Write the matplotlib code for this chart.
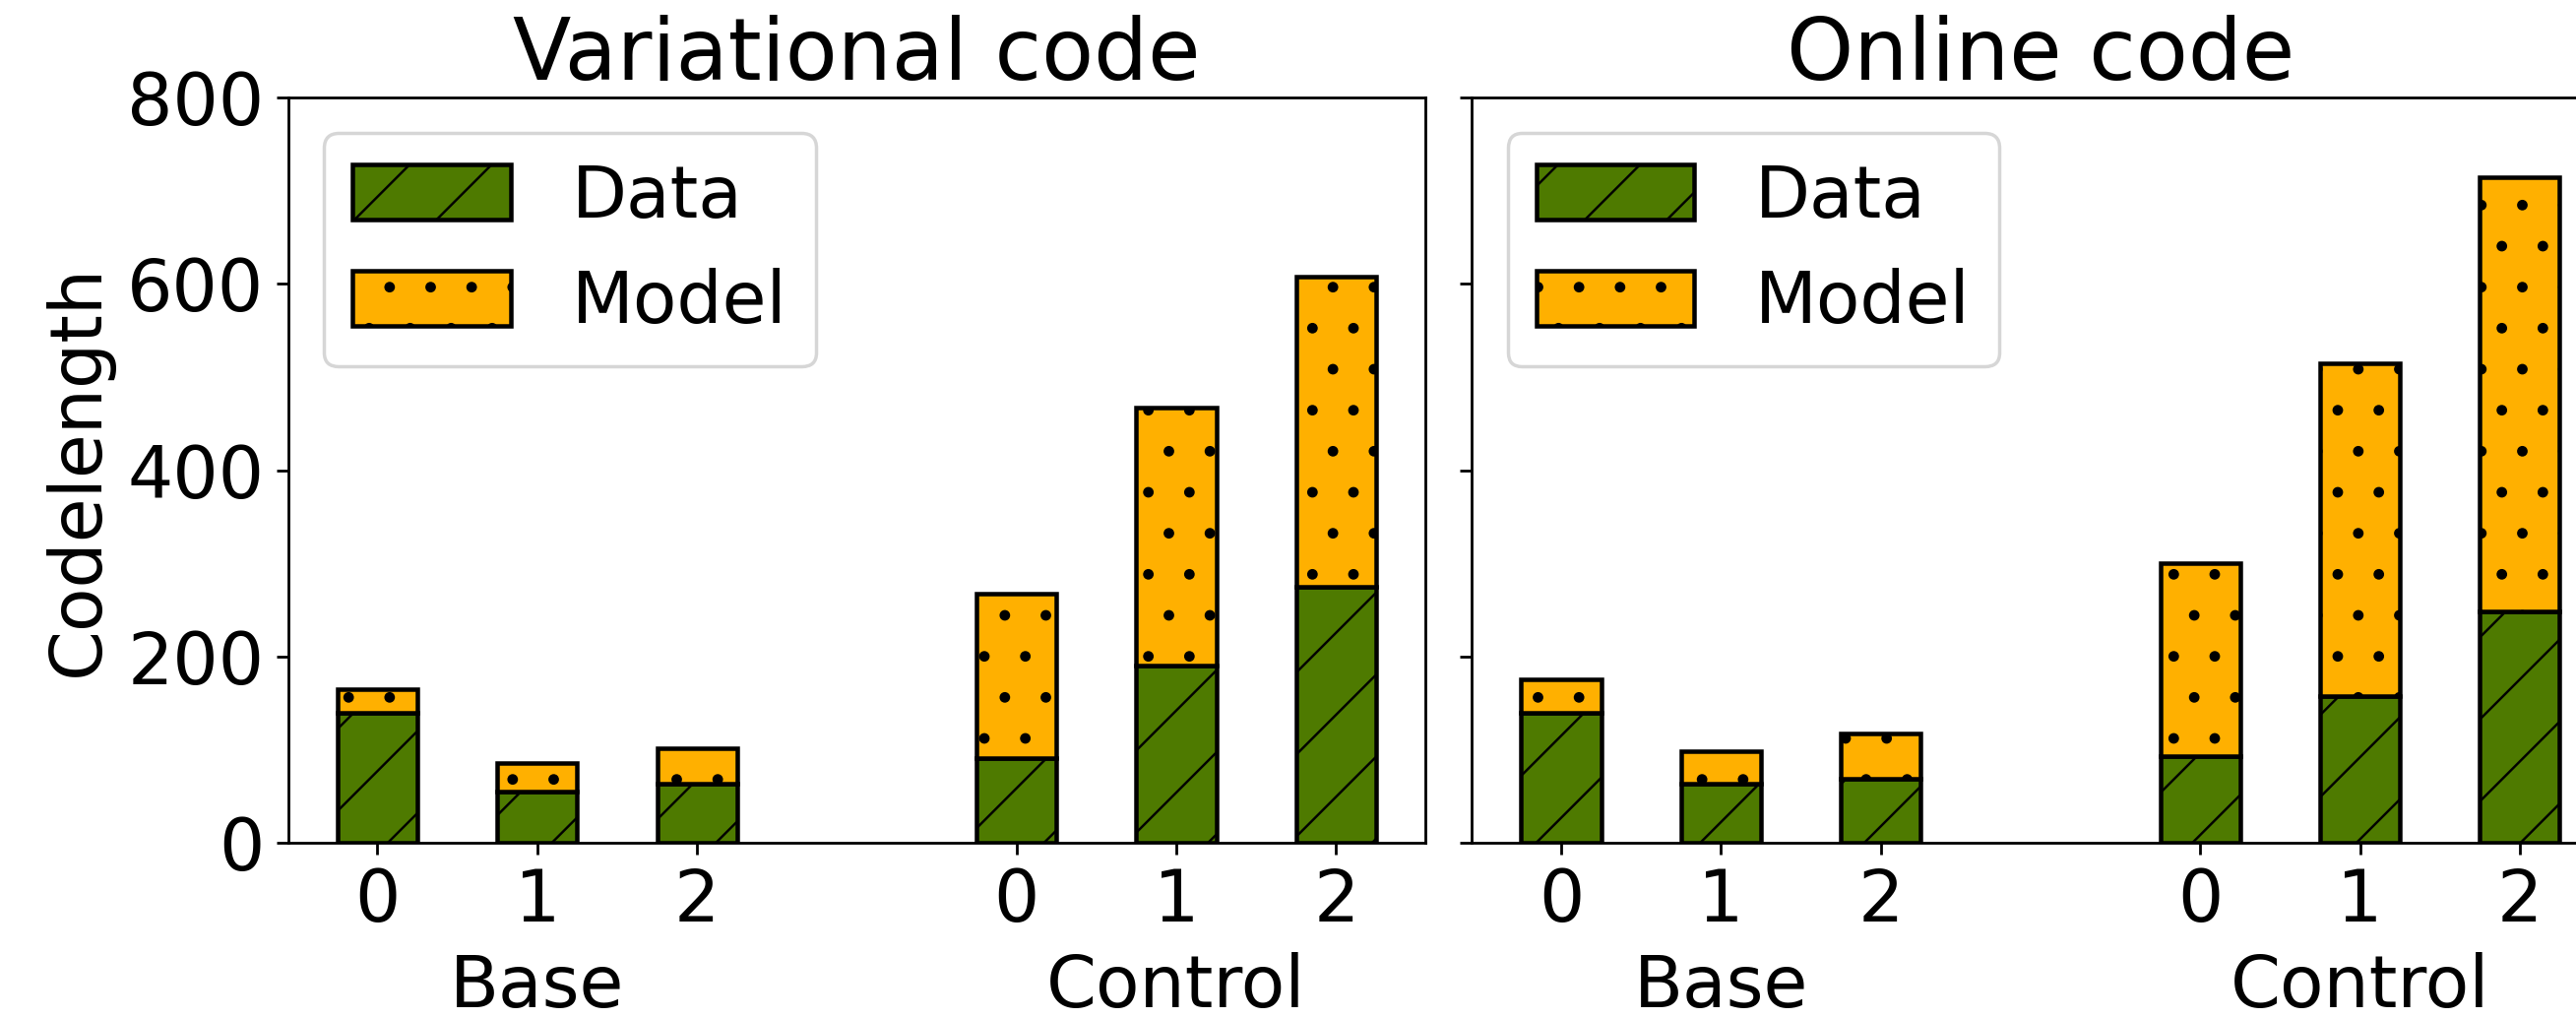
import matplotlib
matplotlib.use('Agg')
import matplotlib.pyplot as plt
from matplotlib.transforms import blended_transform_factory

titles = ['Variational code', 'Online code']
positions = [0, 1, 2, 4, 5, 6]
tick_labels = ['0', '1', '2', '0', '1', '2']
groups = ['Base', 'Control']
group_centers = [1, 5]
var_data = [140, 55, 63, 91, 190, 275]
var_model = [25, 31, 39, 176, 277, 333]
onl_data = [140, 63, 69, 93, 158, 248]
onl_model = [35, 35, 48, 207, 357, 466]
yticks = [0, 200, 400, 600, 800]

GREEN = '#4e7a00'
ORANGE = '#ffb000'
DPI = 250

plt.rcParams['hatch.linewidth'] = 0.7
fig = plt.figure(figsize=(2617 / DPI, 1034 / DPI), dpi=DPI)
ax1 = fig.add_axes([0.1118, 0.1721, 0.4416, 0.7322])
ax2 = fig.add_axes([0.5713, 0.1721, 0.4416, 0.7322], sharey=ax1)

for ax, title, d, m in [(ax1, titles[0], var_data, var_model),
                        (ax2, titles[1], onl_data, onl_model)]:
    ax.bar(positions, d, width=0.5, color=GREEN, edgecolor='black',
           hatch='/', label='Data', linewidth=1.3)
    ax.bar(positions, m, bottom=d, width=0.5, color=ORANGE, edgecolor='black',
           hatch='.', label='Model', linewidth=1.3)
    ax.set_xticks(positions)
    ax.set_xticklabels(tick_labels, fontsize=21)
    ax.set_xlim(-0.56, 6.56)
    ax.set_title(title, fontsize=25, pad=3.5)
    ax.legend(loc='upper left', fontsize=21, handlelength=2.2,
              handleheight=0.8, handletextpad=0.85)
    trans = blended_transform_factory(ax.transData, ax.transAxes)
    for g, c in zip(groups, group_centers):
        ax.text(c, -0.22, g, transform=trans, ha='center', va='baseline',
                fontsize=21)

ax1.set_ylim(0, 800)
ax1.set_yticks(yticks)
ax1.tick_params(axis='y', labelsize=21)
ax1.set_ylabel('Codelength', fontsize=21)
ax2.tick_params(axis='y', labelleft=False)

fig.savefig('out.png', dpi=DPI)
